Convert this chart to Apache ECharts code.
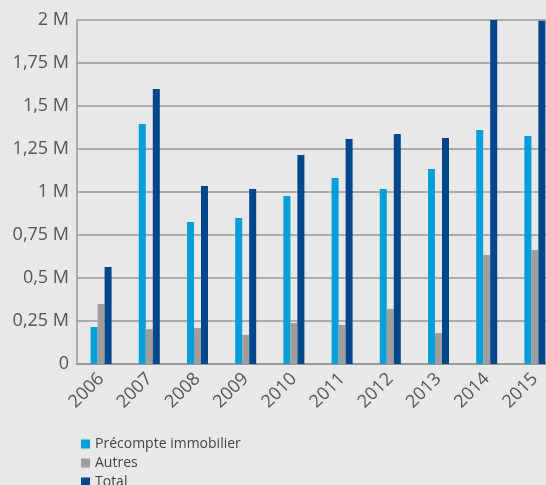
<!DOCTYPE html>
<html><head><meta charset="utf-8">
<script src="https://cdn.jsdelivr.net/npm/echarts@6/dist/echarts.min.js"></script>
<style>html,body{margin:0;padding:0;background:#e8e8e8;}#c{width:546px;height:485px;}</style>
</head><body><div id="c"></div>
<script>
var years = ['2006','2007','2008','2009','2010','2011','2012','2013','2014','2015'];
var precompte = [0.215, 1.395, 0.826, 0.849, 0.977, 1.081, 1.017, 1.134, 1.360, 1.326];
var autres = [0.349, 0.203, 0.209, 0.169, 0.238, 0.227, 0.320, 0.180, 0.634, 0.663];
var total = [0.564, 1.599, 1.035, 1.017, 1.215, 1.308, 1.337, 1.314, 2.0, 1.995];
var seriesNames = ['Précompte immobilier', 'Autres', 'Total'];
var colors = ['#009fda', '#a09e9c', '#00468b'];

var chart = echarts.init(document.getElementById('c'), null, {renderer:'canvas'});
var font = 'Open Sans';
chart.setOption({
  backgroundColor: '#e8e8e8',
  animation: false,
  grid: {left: 77, top: 20, width: 482, height: 344, containLabel: false, outerBoundsMode: 'none'},
  legend: {
    orient: 'vertical', left: 76, top: 432, height: 120, itemWidth: 9, itemHeight: 9, itemGap: 5,
    icon: 'rect',
    textStyle: {fontFamily: font, fontSize: 14, color: '#444'},
    data: seriesNames
  },
  xAxis: {
    type: 'category', data: years,
    axisLine: {lineStyle: {color: '#999', width: 2}},
    axisTick: {show: false},
    axisLabel: {rotate: 45, fontFamily: font, fontSize: 18, color: '#555', margin: 12, interval: 0, padding: [0, 0, 0, 0]}
  },
  yAxis: {
    type: 'value', min: 0, max: 2, interval: 0.25,
    axisLine: {show: true, lineStyle: {color: '#999', width: 1.5}},
    axisTick: {show: false},
    splitLine: {lineStyle: {color: '#999', width: 1.5}},
    axisLabel: {
      fontFamily: font, fontSize: 18, color: '#555', margin: 8,
      formatter: function(v){ return v === 0 ? '0' : (String(v).replace('.', ',') + ' M'); }
    }
  },
  series: [
    {name: seriesNames[0], type: 'bar', data: precompte, barWidth: 7, barGap: '0%', itemStyle: {color: colors[0]}},
    {name: seriesNames[1], type: 'bar', data: autres, barWidth: 7, barGap: '0%', itemStyle: {color: colors[1]}},
    {name: seriesNames[2], type: 'bar', data: total, barWidth: 7, barGap: '0%', itemStyle: {color: colors[2]}}
  ]
});
</script></body></html>
